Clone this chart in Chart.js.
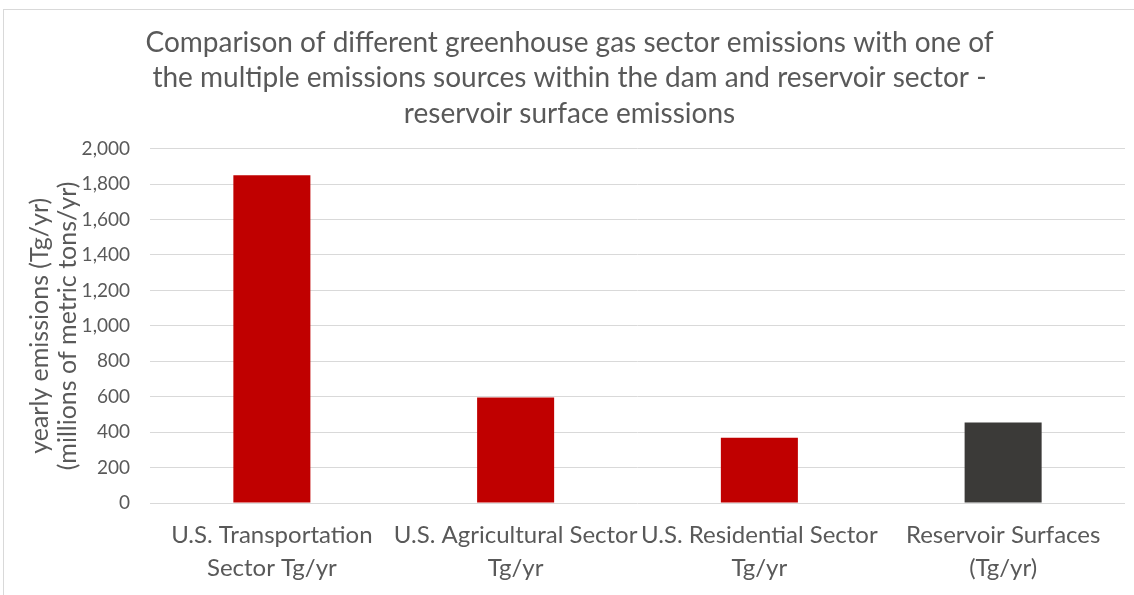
<!DOCTYPE html>
<html>
<head>
<meta charset="utf-8">
<script src="https://cdn.jsdelivr.net/npm/chart.js@4.4.0/dist/chart.umd.min.js"></script>
<style>
  html, body { margin: 0; padding: 0; background: #fff; }
  #frame {
    position: absolute; left: 3px; top: 9px; width: 1200px; height: 700px;
    border-left: 1px solid #d9d9d9; border-top: 1px solid #d9d9d9;
  }
  #wrap { position: absolute; left: 0; top: 0; width: 1134px; height: 595px; }
</style>
</head>
<body>
<div id="frame"></div>
<div id="wrap"><canvas id="myChart"></canvas></div>
<script>
const categories = [
    ['U.S. Transportation', 'Sector Tg/yr'],
    ['U.S. Agricultural Sector', 'Tg/yr'],
    ['U.S. Residential Sector', 'Tg/yr'],
    ['Reservoir Surfaces', '(Tg/yr)']
];
const emissions = [1850, 595, 368, 455];
const barColors = ['#c00000', '#c00000', '#c00000', '#3b3a38'];
const yTicks = { min: 0, max: 2000, step: 200 };

const titleLines = [
    'Comparison of different greenhouse gas sector emissions with one of',
    'the multiple emissions sources within the dam and reservoir sector -',
    'reservoir surface emissions'
];
const yTitle = ['yearly emissions (Tg/yr)', '(millions of metric tons/yr)'];

const grey = '#595959';
const fontFamily = 'Lato, "Open Sans", sans-serif';

const config = {
    type: 'bar',
    data: {
        labels: categories,
        datasets: [{
            data: emissions,
            backgroundColor: barColors,
            borderWidth: 0,
            barPercentage: 0.316,
            categoryPercentage: 1
        }]
    },
    options: {
        responsive: true,
        maintainAspectRatio: false,
        animation: false,
        layout: { padding: { top: 25, right: 9, left: 14, bottom: 0 } },
        plugins: {
            legend: { display: false },
            tooltip: { enabled: false },
            title: {
                display: true,
                text: titleLines,
                color: grey,
                font: { family: fontFamily, size: 28, weight: 'normal', lineHeight: 1.27 },
                padding: { top: 0, bottom: 17 }
            }
        },
        scales: {
            x: {
                grid: { display: false, drawTicks: false },
                border: { display: false },
                ticks: {
                    color: grey,
                    maxRotation: 0,
                    autoSkip: false,
                    padding: 16,
                    font: { family: fontFamily, size: 24, lineHeight: 1.37 }
                },
                afterFit: function(scale) { scale.height = 92; }
            },
            y: {
                min: yTicks.min,
                max: yTicks.max,
                grid: { color: '#d9d9d9', lineWidth: 1, drawTicks: false },
                border: { display: false },
                ticks: {
                    stepSize: yTicks.step,
                    color: grey,
                    padding: 20,
                    font: { family: fontFamily, size: 19 },
                    callback: function(v) { return v.toLocaleString('en-US'); }
                },
                title: {
                    display: true,
                    text: yTitle,
                    color: grey,
                    font: { family: fontFamily, size: 25, lineHeight: 1.12 },
                    padding: { top: 12, bottom: 0 }
                },
                afterFit: function(scale) { scale.width = 136; }
            }
        }
    }
};

new Chart(document.getElementById('myChart').getContext('2d'), config);
</script>
</body>
</html>
